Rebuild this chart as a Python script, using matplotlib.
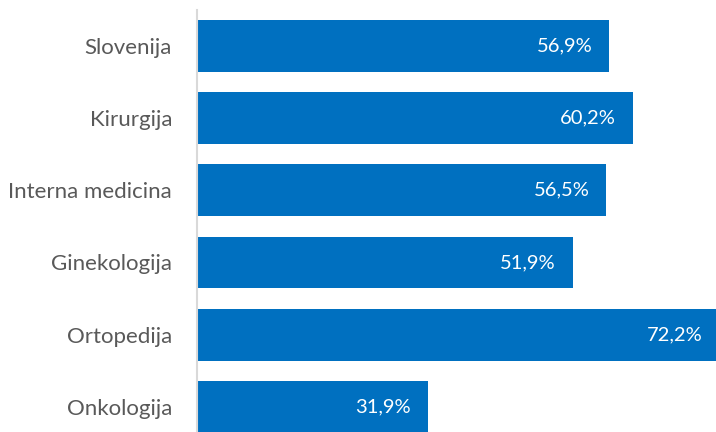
import matplotlib.pyplot as plt

categories = ["Slovenija", "Kirurgija", "Interna medicina", "Ginekologija", "Ortopedija", "Onkologija"]
values = [56.9, 60.2, 56.5, 51.9, 72.2, 31.9]
value_labels = ["56,9%", "60,2%", "56,5%", "51,9%", "72,2%", "31,9%"]

plt.rcParams["font.family"] = ["Lato", "DejaVu Sans"]

fig = plt.figure(figsize=(7.16, 4.32), dpi=100)
ax = fig.add_axes([197 / 716, 0, 1 - 197 / 716, 1 - 10 / 432])

pos = list(range(len(categories)))
bars = ax.barh(pos, values, height=0.72, color="#0070C0")

for bar, lab in zip(bars, value_labels):
    ax.annotate(lab, (bar.get_width(), bar.get_y() + bar.get_height() / 2),
                xytext=(-12, 0), textcoords="offset points",
                ha="right", va="center", color="white", fontsize=14.5,
                annotation_clip=False)

ax.set_xlim(0, 71.7)
ax.set_ylim(5.35, -0.5)
ax.set_yticks(pos)
ax.set_yticklabels(categories, fontsize=16, color="#595959")
ax.tick_params(axis="y", length=0, pad=18)
ax.set_xticks([])
for side in ["top", "right", "bottom"]:
    ax.spines[side].set_visible(False)
ax.spines["left"].set_color("#D9D9D9")
ax.spines["left"].set_linewidth(1.5)

fig.savefig("out.png", dpi=100)
